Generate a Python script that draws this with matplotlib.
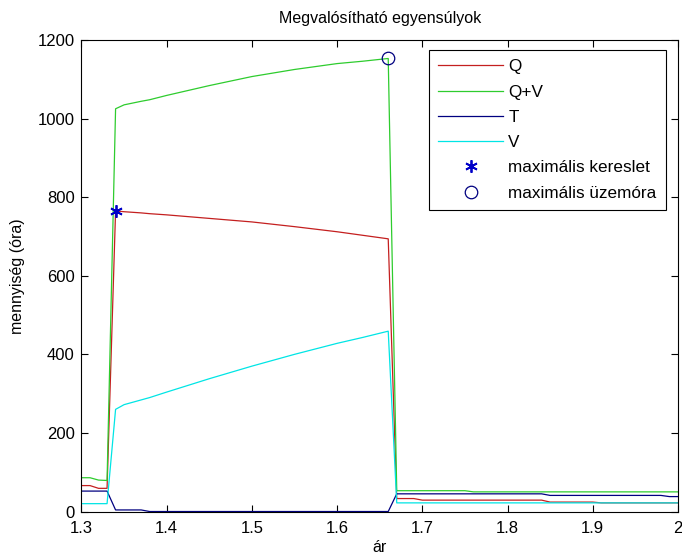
import matplotlib
matplotlib.use('Agg')
import matplotlib.pyplot as plt
import numpy as np

plt.rcParams['font.family'] = ['Liberation Sans', 'DejaVu Sans']

# price grid (breakpoints)
ar = [1.30, 1.31, 1.32, 1.33, 1.34, 1.35, 1.37, 1.38, 1.40, 1.45, 1.50, 1.55, 1.60, 1.63, 1.66,
      1.67, 1.69, 1.70, 1.75, 1.76, 1.84, 1.85, 1.90, 1.91, 1.98, 1.99, 2.00]

Q = [66, 66, 59, 59, 765, 763, 760, 758, 755, 746, 737, 725, 712, 703, 694,
     33, 33, 29, 29, 29, 29, 24, 24, 22, 22, 22, 22]
QV = [86, 86, 80, 79, 1025, 1035, 1044, 1048, 1059, 1084, 1107, 1125, 1140, 1146, 1153,
      53, 53, 53, 53, 50, 50, 50, 50, 50, 50, 50, 50]
T = [52, 52, 52, 52, 4, 4, 4, 0, 0, 0, 0, 0, 0, 0, 0,
     45, 45, 45, 45, 45, 45, 41, 41, 41, 41, 38, 38]
V = [20, 20, 20, 20, 260, 272, 284, 290, 304, 338, 370, 400, 428, 443, 459,
     22, 22, 22, 22, 22, 22, 22, 22, 22, 22, 22, 22]

max_kereslet = (1.34, 765)
max_uzemora = (1.66, 1153)

fig = plt.figure(figsize=(6.82, 5.58), dpi=100)
ax = fig.add_axes([0.1195, 0.0833, 0.8745, 0.845])

ax.plot(ar, Q, color='#c41f1f', lw=0.9, label='Q')
ax.plot(ar, QV, color='#2ecc2e', lw=0.9, label='Q+V')
ax.plot(ar, T, color='#000080', lw=0.9, label='T')
ax.plot(ar, V, color='#00e5e5', lw=0.9, label='V')
# matlab-style asterisk marker
ax.plot([max_kereslet[0]], [max_kereslet[1]], marker=(6, 2, 0), color='#0000c8', ms=9,
        mew=1.3, ls='none', label='maximális kereslet')
ax.plot([max_uzemora[0]], [max_uzemora[1]], 'o', mfc='none', mec='#000080', ms=9, mew=0.9,
        ls='none', label='maximális üzemóra')

ax.set_xlim(1.3, 2.0)
ax.set_ylim(0, 1200)
ax.set_xticks([1.3, 1.4, 1.5, 1.6, 1.7, 1.8, 1.9, 2.0])
ax.set_xticklabels(['1.3', '1.4', '1.5', '1.6', '1.7', '1.8', '1.9', '2'])
ax.set_yticks(np.arange(0, 1201, 200))
ax.tick_params(direction='in', top=True, right=True, labelsize=12, length=5, width=0.8)
ax.tick_params(axis='x', pad=7)
ax.tick_params(axis='y', pad=5)
for s in ax.spines.values():
    s.set_linewidth(0.8)

ax.set_title('Megvalósítható egyensúlyok', fontsize=11.5, pad=12)
ax.set_xlabel('ár', fontsize=11.5, labelpad=3)
ax.set_ylabel('mennyiség (óra)', fontsize=11.5, labelpad=9)

leg = ax.legend(loc='upper right', bbox_to_anchor=(0.98, 0.979), borderaxespad=0,
                fontsize=12.3, handlelength=3.8, handletextpad=0.3, labelspacing=0.6,
                fancybox=False, framealpha=1, edgecolor='black', borderpad=0.55)
leg.get_frame().set_linewidth(0.8)

fig.savefig('out.png', dpi=100)
